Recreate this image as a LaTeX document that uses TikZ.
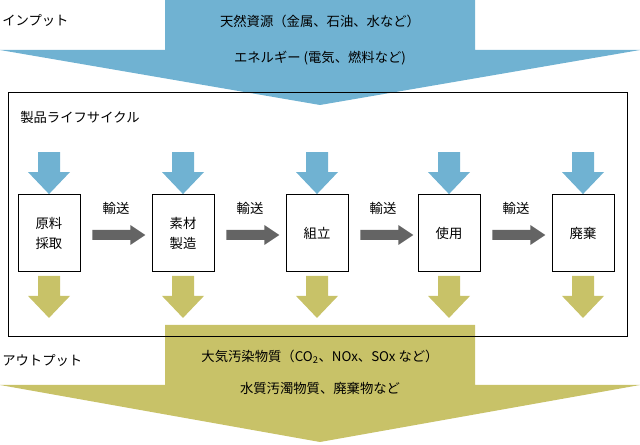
\documentclass[tikz,border=0pt]{standalone}
\usepackage{fontspec}
\setmainfont{Noto Sans CJK JP}
\usetikzlibrary{positioning,calc}
\definecolor{inblue}{RGB}{112,178,210}
\definecolor{outolive}{RGB}{200,194,104}
\definecolor{flowgray}{RGB}{100,100,100}
\tikzset{
  stage/.style={draw, fill=white, minimum width=46.5pt, minimum height=58pt,
    align=center, font=\fontsize{10}{15}\selectfont, inner sep=2pt},
  label text/.style={font=\fontsize{10}{15}\selectfont, inner sep=0pt},
  pics/downarrow/.style={code={
    \fill[#1] (-11,0) -- (11,0) -- (11,20) -- (21,20) -- (0,42)
      -- (-21,20) -- (-11,20) -- cycle;}},
  pics/rightarrow/.style={code={
    \fill[flowgray] (0,-5) -- (38,-5) -- (38,-10) -- (53,0) -- (38,10)
      -- (38,5) -- (0,5) -- cycle;}},
}
\begin{document}
\begin{tikzpicture}[x=0.75pt,y=-0.75pt]
\useasboundingbox (0,0) rectangle (640,445);

% input and output
\fill[inblue] (165,0) -- (475,0) -- (475,50) -- (640,50) -- (320,105) -- (0,50) -- (165,50) -- cycle;
\fill[outolive] (165,325) -- (475,325) -- (475,385) -- (640,385) -- (320,442) -- (0,385) -- (165,385) -- cycle;

% frame
\node[draw, thick, minimum width=464pt, minimum height=183pt, anchor=north west, inner sep=0pt]
  (frame) at (8,92) {};
\node[label text, anchor=west] (title) at (20,117) {製品ライフサイクル};

\node[label text] (in1) at (320,21) {天然資源（金属、石油、水など）};
\node[label text] (in2) at (320,58) {エネルギー (電気、燃料など)};
\node[label text, anchor=west] (inlbl) at (2,20) {インプット};
\node[label text] (out1) at (320,357) {大気汚染物質（CO\textsubscript{2}、NOx、SOx など）};
\node[label text] (out2) at (320,388) {水質汚濁物質、廃棄物など};
\node[label text, anchor=west] (outlbl) at (2,360) {アウトプット};

% stages
\node[stage] (s1) at (49,233) {原料\\採取};
\node[stage] (s2) at (183,233) {素材\\製造};
\node[stage] (s3) at (317,233) {組立};
\node[stage] (s4) at (449,233) {使用};
\node[stage] (s5) at (583,233) {廃棄};

\foreach \s in {1,...,5}{
  \pic at ($(s\s.north)+(0,-42)$) {downarrow=inblue};
  \pic at ($(s\s.south)+(0,4)$) {downarrow=outolive};
}

\foreach \a/\b in {1/2,2/3,3/4,4/5}{
  \pic at ($(s\a.east)+(12,2)$) {rightarrow};
  \node[label text] (t\a) at ($(s\a.east)!0.5!(s\b.west)+(0,-25)$) {輸送};
}
\end{tikzpicture}
\end{document}
